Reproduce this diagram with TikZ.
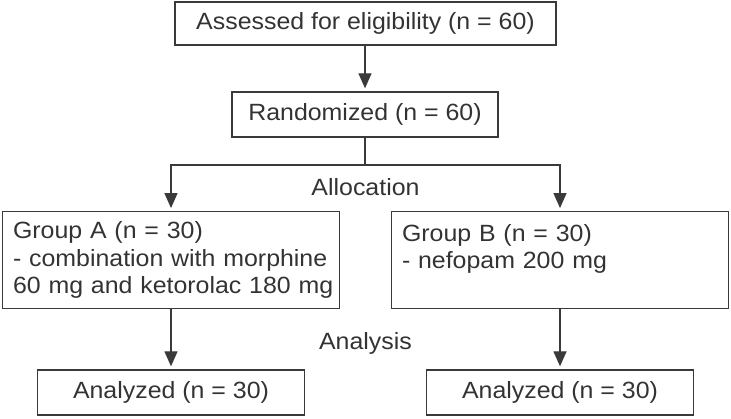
\documentclass[tikz,border=0pt]{standalone}
\usepackage{fontspec}
\setmainfont[FakeStretch=1.06]{Liberation Sans}
\usetikzlibrary{arrows.meta}
\definecolor{ln}{HTML}{3A3A3A}
\definecolor{tx}{HTML}{333333}
\begin{document}
\begin{tikzpicture}[x=1pt,y=-1pt,
  every node/.style={font=\fontsize{23.5}{27.5}\selectfont, text=tx},
  box/.style={draw=ln, line width=1.3pt, inner sep=0pt, minimum height=45pt},
  grp/.style={box, minimum width=337pt, minimum height=96.5pt, text width=316pt, align=left},
  conn/.style={draw=ln, line width=1.3pt},
  arr/.style={conn, -{Triangle[width=13pt,length=15pt]}, shorten >=3pt}]
\useasboundingbox (0,0) rectangle (731,419);
\node[box, minimum width=381pt, minimum height=43pt] (elig) at (365.5,23.5) {Assessed for eligibility (n = 60)};
\node[box, minimum width=266pt] (rand) at (365,114.5) {Randomized (n = 60)};
\node[grp] (ga) at (171,260) {\mbox{Group A (n = 30)}\\\mbox{- combination with morphine}\\\mbox{60 mg and ketorolac 180 mg}};
\node[grp] (gb) at (560,260) {\mbox{Group B (n = 30)}\\\mbox{- nefopam 200 mg}\\\mbox{}};
\node[box, minimum width=267pt] (aa) at (171,392.5) {Analyzed (n = 30)};
\node[box, minimum width=267pt] (ab) at (560,392.5) {Analyzed (n = 30)};
\node (alloc) at (365.5,187) {Allocation};
\node (anal) at (365.5,343) {Analysis};
\coordinate (split) at (365,165);
\draw[arr] (elig.south -| rand.north) -- (rand.north);
\draw[conn] (rand.south) -- (split);
\draw[arr] (split) -| (ga.north);
\draw[arr] (split) -| (gb.north);
\draw[arr] (ga.south) -- (aa.north);
\draw[arr] (gb.south) -- (ab.north);
\end{tikzpicture}
\end{document}
